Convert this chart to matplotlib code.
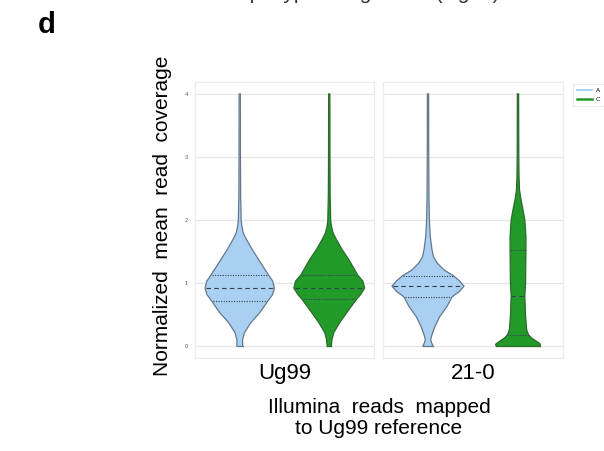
import numpy as np
import matplotlib
matplotlib.use('Agg')
import matplotlib.pyplot as plt
from matplotlib.lines import Line2D

plt.rcParams['font.family'] = ['Liberation Sans', 'DejaVu Sans']

# isolates (panels) and haplotypes (hue)
isolates = ['Ug99', '21-0']
haplotypes = ['A', 'C']
colors = {'A': '#a9d0f2', 'C': '#229a2a'}
edges = {'A': '#66778a', 'C': '#2b6b2b'}

# kernel density profiles (relative width) at coverage levels
ug99_A_lev = [0, 0.1, 0.21, 0.37, 0.53, 0.71, 0.82, 0.92, 1.03, 1.13, 1.37, 1.53, 1.69, 1.79, 1.9, 2.0, 2.4, 3.0, 4.0]
ug99_A_dens = [0.08, 0.08, 0.13, 0.31, 0.56, 0.78, 0.92, 0.97, 0.92, 0.80, 0.53, 0.35, 0.19, 0.10, 0.06, 0.04, 0.025, 0.02, 0.017]
ug99_C_lev = [0, 0.1, 0.21, 0.37, 0.53, 0.74, 0.82, 0.92, 1.03, 1.13, 1.37, 1.53, 1.69, 1.79, 1.9, 2.0, 2.4, 3.0, 4.0]
ug99_C_dens = [0.06, 0.075, 0.125, 0.29, 0.49, 0.76, 0.88, 0.99, 0.94, 0.79, 0.55, 0.36, 0.2, 0.11, 0.06, 0.04, 0.025, 0.02, 0.017]
r210_A_lev = [0, 0.05, 0.1, 0.18, 0.32, 0.47, 0.63, 0.78, 0.87, 0.95, 1.03, 1.11, 1.21, 1.32, 1.42, 1.53, 1.74, 1.95, 2.3, 3.0, 4.0]
r210_A_dens = [0.14, 0.10, 0.075, 0.11, 0.20, 0.33, 0.53, 0.67, 0.88, 1.0, 0.88, 0.72, 0.44, 0.25, 0.15, 0.11, 0.064, 0.042, 0.028, 0.02, 0.017]
r210_C_lev = [0, 0.02, 0.04, 0.08, 0.13, 0.18, 0.26, 0.48, 0.79, 1.0, 1.53, 1.74, 2.0, 2.16, 2.32, 2.48, 2.7, 3.0, 4.0]
r210_C_dens = [0.60, 0.625, 0.60, 0.50, 0.37, 0.29, 0.24, 0.21, 0.19, 0.21, 0.22, 0.22, 0.19, 0.14, 0.083, 0.042, 0.028, 0.022, 0.017]

# quartiles (Q1, median, Q3)
ug99_A_q = [0.71, 0.92, 1.13]
ug99_C_q = [0.74, 0.92, 1.13]
r210_A_q = [0.78, 0.95, 1.11]
r210_C_q = [0.17, 0.79, 1.53]

profiles = {
    'Ug99': [(ug99_A_lev, ug99_A_dens, ug99_A_q), (ug99_C_lev, ug99_C_dens, ug99_C_q)],
    '21-0': [(r210_A_lev, r210_A_dens, r210_A_q), (r210_C_lev, r210_C_dens, r210_C_q)],
}

yticks = [0, 1, 2, 3, 4]
WIDTH = 0.4


def violin(ax, pos, lev, dens, quart, face, edge):
    lev = np.asarray(lev)
    half = WIDTH * np.asarray(dens)
    ax.fill_betweenx(lev, pos - half, pos + half, facecolor=face,
                     edgecolor='none', zorder=2)
    ax.plot(pos - half, lev, color=edge, lw=0.9, zorder=3)
    ax.plot(pos + half, lev, color=edge, lw=0.9, zorder=3)
    ax.plot([pos - half[0], pos + half[0]], [lev[0], lev[0]], color=edge, lw=0.9, zorder=3)
    for k, q in enumerate(quart):
        w = np.interp(q, lev, half) * 0.96
        ls = (0, (4, 3)) if k == 1 else (0, (1, 1.3))
        ax.plot([pos - w, pos + w], [q, q], color='#33414f', lw=0.8,
                linestyle=ls, zorder=4)


fig = plt.figure(figsize=(6.04, 4.51), dpi=100)
panels = [(195, 374), (383, 563)]
for name, (x0, x1) in zip(isolates, panels):
    ax = fig.add_axes([x0 / 604, 1 - 358 / 451, (x1 - x0) / 604, 276 / 451])
    for i, (lev, dens, q) in enumerate(profiles[name]):
        h = haplotypes[i]
        violin(ax, i, lev, dens, q, colors[h], edges[h])
    ax.set_xlim(-0.5, 1.5)
    ax.set_ylim(-0.19, 4.19)
    ax.set_yticks(yticks)
    ax.set_xticks([])
    ax.grid(axis='y', color='#e6e6e6', lw=0.9, zorder=0)
    ax.set_axisbelow(True)
    for s in ax.spines.values():
        s.set_color('#ececec')
        s.set_linewidth(0.9)
    ax.tick_params(axis='y', length=0, pad=5, labelsize=4, labelcolor='#555555')
    if name != 'Ug99':
        ax.set_yticklabels([])
    fig.text((x0 + x1) / 2 / 604, 1 - 379 / 451, name, ha='center',
             va='baseline', fontsize=16)

fig.text(162.5 / 604, 1 - 216 / 451, 'Normalized  mean  read  coverage',
         rotation=90, ha='center', va='center', fontsize=15)
fig.text(379 / 604, 1 - 413.3 / 451, 'Illumina  reads  mapped', ha='center',
         va='baseline', fontsize=15)
fig.text(379 / 604, 1 - 434 / 451, 'to Ug99 reference', ha='center',
         va='baseline', fontsize=15)
fig.text(38 / 604, 1 - 33 / 451, 'd', fontsize=21, fontweight='bold',
         va='baseline')
# panel-group title sits mostly above the top edge
fig.text(361 / 604, 1 + 0.5 / 451, 'Haplotype assignment (Ug99)',
         ha='center', va='baseline', fontsize=15, color='#333333')

handles = [Line2D([], [], color=colors['A'], lw=1.4),
           Line2D([], [], color=colors['C'], lw=1.8)]
leg = fig.legend(handles, haplotypes, loc='upper left',
                 bbox_to_anchor=(573 / 604, 1 - 84 / 451), fontsize=4.5,
                 handlelength=2.5, handletextpad=0.6, labelspacing=0.55,
                 borderpad=0.6, borderaxespad=0, frameon=True, fancybox=False)
leg.get_frame().set_edgecolor('#e8e8e8')
leg.get_frame().set_linewidth(0.8)

fig.savefig('out.png', dpi=100)
